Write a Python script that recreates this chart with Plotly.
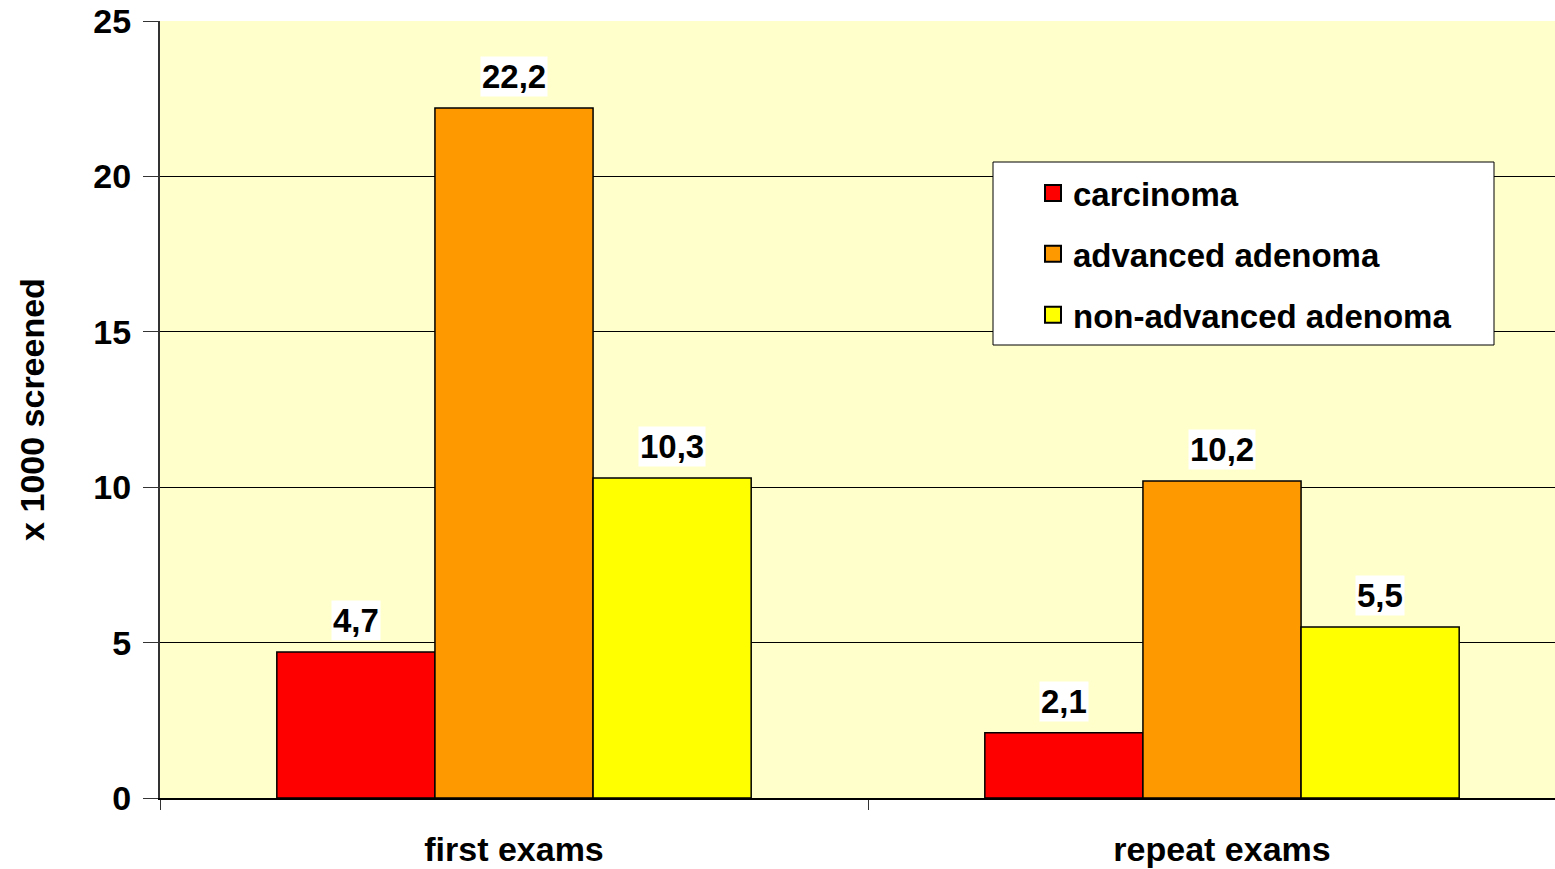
import plotly.graph_objects as go

# data
exams = ["first exams", "repeat exams"]
series_names = ["carcinoma", "advanced adenoma", "non-advanced adenoma"]
carcinoma = [4.7, 2.1]
advanced_adenoma = [22.2, 10.2]
non_advanced_adenoma = [10.3, 5.5]
y_ticks = [0, 5, 10, 15, 20, 25]

colors = ["#FF0000", "#FF9900", "#FFFF00"]
FONT = "Arial, Liberation Sans, sans-serif"
bargap = 0.33

# plot area in page pixels
PX_L, PX_R, PX_T, PX_B = 160, 1555, 21, 798


def px_x(v):
    return (v - PX_L) / (PX_R - PX_L)


def px_y(v):
    return (PX_B - v) / (PX_B - PX_T)


fig = go.Figure()
all_values = [carcinoma, advanced_adenoma, non_advanced_adenoma]
for i, (name, vals) in enumerate(zip(series_names, all_values)):
    fig.add_trace(go.Bar(
        x=exams, y=vals, name=name, showlegend=False,
        marker=dict(color=colors[i], line=dict(color="black", width=1.5)),
    ))
# legend entries with square swatches
for i, name in enumerate(series_names):
    fig.add_trace(go.Scatter(
        x=[None], y=[None], mode="markers", name="<b>" + name + "</b>",
        legendgroup=name,
        marker=dict(symbol="square", size=21, color=colors[i],
                    line=dict(color="black", width=2)),
    ))

# value labels with white boxes above each bar
bar_w = (1 - bargap) / len(series_names)
for i, vals in enumerate(all_values):
    for j, v in enumerate(vals):
        fig.add_annotation(
            x=j + (i - 1) * bar_w, y=v, xref="x", yref="y",
            text="<b>" + f"{v:.1f}".replace(".", ",") + "</b>",
            showarrow=False, yanchor="bottom", yshift=11,
            bgcolor="white", borderpad=1,
            font=dict(family=FONT, size=33, color="black"),
        )

# legend box
fig.add_shape(type="rect", xref="paper", yref="paper",
              x0=px_x(993), x1=px_x(1494), y0=px_y(345), y1=px_y(162),
              fillcolor="white", line=dict(color="black", width=1), layer="above")

fig.update_layout(
    width=1555, height=869,
    margin=dict(l=PX_L, r=1555 - PX_R, t=PX_T, b=869 - PX_B),
    paper_bgcolor="white", plot_bgcolor="#FFFFCC",
    barmode="group", bargap=bargap, bargroupgap=0,
    font=dict(family=FONT, size=34, color="black"),
    showlegend=True,
    legend=dict(
        x=px_x(1033), y=px_y(165), xanchor="left", yanchor="top",
        bgcolor="rgba(0,0,0,0)", borderwidth=0,
        font=dict(family=FONT, size=33, color="black"),
        traceorder="grouped", tracegroupgap=15,
    ),
    xaxis=dict(
        type="category", range=[-0.5, -0.5 + (PX_R - PX_L) / 708],
        tickson="boundaries", ticks="outside", ticklen=10, tickcolor="#333",
        showline=True, linecolor="black", linewidth=2,
        tickfont=dict(family=FONT, size=34, color="black"),
        ticklabelstandoff=20, automargin=False,
    ),
    yaxis=dict(
        range=[0, 25], tickvals=y_ticks,
        ticktext=["<b>%d</b>" % t for t in y_ticks],
        ticks="outside", ticklen=15, tickcolor="#333",
        showline=True, linecolor="#333", linewidth=2,
        showgrid=True, gridcolor="#000", gridwidth=1, zeroline=False,
        tickfont=dict(family=FONT, size=34, color="black"),
        ticklabelstandoff=5, ticklabeloverflow="allow", automargin=False,
        title=dict(text="<b>x 1000 screened</b>", standoff=38,
                   font=dict(family=FONT, size=34, color="black")),
    ),
)
fig.update_xaxes(tickprefix="<b>", ticksuffix="</b>")

# drop the browser's default body margin so the figure sits at the page corner
fig.write_html("out.html", config={"displayModeBar": False},
               post_script="document.body.style.margin='0px';")
